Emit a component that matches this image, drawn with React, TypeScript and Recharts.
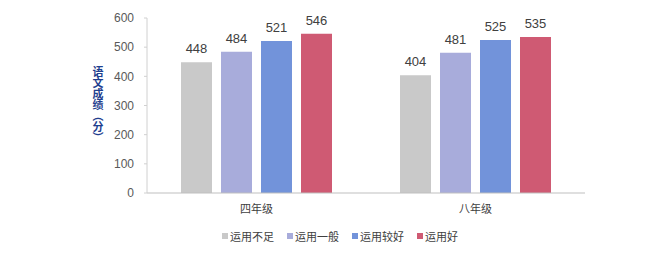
import React from 'react';
import { BarChart, Bar, XAxis, YAxis, LabelList, Legend } from 'recharts';

const categories = ['四年级', '八年级'];
const seriesNames = ['运用不足', '运用一般', '运用较好', '运用好'];
const seriesColors = ['#C9C9C9', '#A8ACDB', '#7293DA', '#CF5A73'];
const insufficient = [448, 404];
const general = [484, 481];
const good = [521, 525];
const best = [546, 535];
const yTicks = [0, 100, 200, 300, 400, 500, 600];

const seriesValues = [insufficient, general, good, best];
const keys = ['s0', 's1', 's2', 's3'];

const data = categories.map((c, i) => {
  const row: Record<string, string | number> = { name: c };
  keys.forEach((k, j) => {
    row[k] = seriesValues[j][i];
  });
  return row;
});

const FONT = "'Liberation Sans', 'Noto Sans CJK SC', sans-serif";

const YLabel = (props: any) => {
  const vb = props.viewBox || {};
  const cy = (vb.y ?? 18) + (vb.height ?? 175) / 2;
  return (
    <text
      x={98}
      y={cy - 1}
      textAnchor="middle"
      dominantBaseline="central"
      fill="#1F3F8F"
      fontSize={11}
      fontWeight="bold"
      fontFamily="'Noto Sans CJK SC', sans-serif"
      style={{ writingMode: 'vertical-rl' } as any}
    >
      语文成绩（分）
    </text>
  );
};

const LegendContent = () => (
  <div
    style={{
      display: 'flex',
      alignItems: 'center',
      height: 18,
      paddingLeft: 222,
      fontFamily: "'Noto Sans CJK SC', sans-serif",
      fontSize: 11,
      color: '#404040',
    }}
  >
    {seriesNames.map((n, i) => (
      <div key={n} style={{ display: 'flex', alignItems: 'center', marginRight: 13 }}>
        <span
          style={{
            display: 'inline-block',
            width: 6,
            height: 6,
            background: seriesColors[i],
            marginRight: 2,
          }}
        />
        <span style={{ lineHeight: '18px' }}>{n}</span>
      </div>
    ))}
  </div>
);

export default function App() {
  return (
    <div style={{ position: 'absolute', left: 0, top: 0, width: 650, height: 255, background: '#fff' }}>
      <BarChart
        width={650}
        height={255}
        data={data}
        margin={{ top: 18, right: 65, bottom: 0, left: 0 }}
        barSize={31}
        barGap={9}
      >
        <XAxis
          dataKey="name"
          height={62}
          tickLine={false}
          tickSize={0}
          tickMargin={12}
          axisLine={{ stroke: '#BFBFBF' }}
          tick={{ fill: '#404040', fontSize: 11, fontFamily: FONT }}
        />
        <YAxis
          width={147}
          domain={[0, 600]}
          ticks={yTicks}
          tickSize={3}
          tickMargin={10}
          axisLine={{ stroke: '#D0D0D0' }}
          tickLine={{ stroke: '#D0D0D0' }}
          tick={{ fill: '#595959', fontSize: 12, fontFamily: FONT }}
          label={<YLabel />}
        />
        <Legend
          layout="horizontal"
          verticalAlign="middle"
          content={<LegendContent />}
          wrapperStyle={{ left: 0, top: 227, width: 650 }}
        />
        {keys.map((k, i) => (
          <Bar key={k} dataKey={k} name={seriesNames[i]} fill={seriesColors[i]} isAnimationActive={false}>
            <LabelList
              dataKey={k}
              position="top"
              offset={9}
              fill="#404040"
              fontSize={13}
              fontFamily={FONT}
            />
          </Bar>
        ))}
      </BarChart>
    </div>
  );
}
